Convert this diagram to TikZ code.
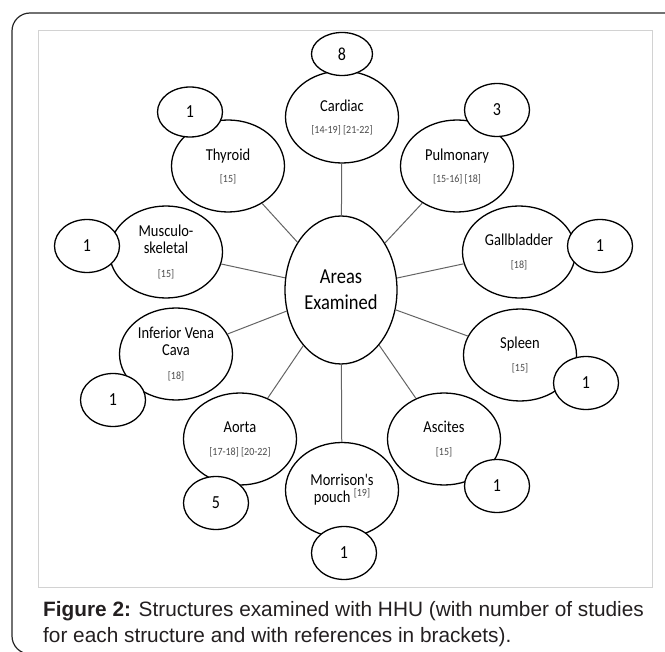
\documentclass[tikz,border=0pt]{standalone}
\usepackage{fontspec}
\setmainfont{Carlito}
\newfontfamily\capfont{Liberation Sans}
\usepackage{graphicx}
\usepackage{xcolor}
\usetikzlibrary{shapes.geometric}
\definecolor{refgray}{RGB}{75,75,75}
\definecolor{linkgray}{RGB}{100,100,100}
\definecolor{framegray}{RGB}{210,210,210}
\definecolor{captext}{RGB}{35,31,32}
\newcommand{\tall}[1]{\scalebox{1}[1.15]{#1}}
\newcommand{\refs}[1]{{\fontsize{10}{11}\selectfont\color{refgray}\scalebox{1}[1.1]{#1}}}

\begin{document}
\begin{tikzpicture}[x=1pt,y=-1pt,
  area/.style={ellipse,draw=black,line width=1.3pt,fill=white,minimum width=113pt,minimum height=92pt,inner sep=0pt,align=center,font=\fontsize{14.5}{18}\selectfont},
  count/.style={ellipse,draw=black,line width=1.3pt,fill=white,minimum width=65pt,minimum height=53pt,inner sep=0pt,font=\fontsize{16}{18}\selectfont},
  link/.style={linkgray,line width=1pt},
  captionline/.style={anchor=base west,inner sep=0pt,text=captext,font=\capfont\fontsize{20.8}{25}\selectfont}]
\useasboundingbox (0,0) rectangle (665,652);
\begin{scope}
\clip (0,0) rectangle (665,652);
\draw[black!85,line width=1.2pt,rounded corners=18pt] (12,13) rectangle (700,654);
\end{scope}
\draw[framegray,line width=0.8pt] (38,30) rectangle (652,587);

\node[area,minimum width=112pt,minimum height=148pt,font=\fontsize{18.5}{26}\selectfont] (areas) at (341,290) {\tall{Areas}\\\tall{Examined}};

\node[area] (cardiac) at (342,117) {\tall{Cardiac}\\[4pt]\refs{[14-19] [21-22]}};
\node[area] (thyroid) at (228,166) {\tall{Thyroid}\\[4pt]\refs{[15]}};
\node[area] (pulmonary) at (457,166) {\tall{Pulmonary}\\[4pt]\refs{[15-16] [18]}};
\node[area] (musculo) at (166,252) {\tall{Musculo-}\\[-1pt]\tall{skeletal}\\[6pt]\refs{[15]}};
\node[area] (gallbladder) at (519,252) {\tall{Gallbladder}\\[5pt]\refs{[18]}};
\node[area] (ivc) at (176,354) {\tall{Inferior Vena}\\[-1pt]\tall{Cava}\\[6pt]\refs{[18]}};
\node[area] (spleen) at (520,355) {\tall{Spleen}\\[5pt]\refs{[15]}};
\node[area] (aorta) at (240,439) {\tall{Aorta}\\[5pt]\refs{[17-18] [20-22]}};
\node[area] (ascites) at (444,439) {\tall{Ascites}\\[5pt]\refs{[15]}};
\node[area,minimum height=95pt] (morrison) at (342,490) {\tall{Morrison\textquotesingle s}\\[-1pt]\tall{pouch} \raisebox{6pt}{\refs{[19]}}};

\node[count,minimum width=61pt,minimum height=43pt] (ncardiac) at (342,54) {\tall{8}};
\node[count,minimum height=50pt] (nthyroid) at (190,112) {\tall{1}};
\node[count] (npulmonary) at (497,110) {\tall{3}};
\node[count] (nmusculo) at (87,246) {\tall{1}};
\node[count] (ngallbladder) at (600,246) {\tall{1}};
\node[count] (nivc) at (113,400) {\tall{1}};
\node[count] (nspleen) at (586,383) {\tall{1}};
\node[count] (naorta) at (216,503) {\tall{5}};
\node[count] (nascites) at (497,486) {\tall{1}};
\node[count] (nmorrison) at (344,553) {\tall{1}};

\foreach \sat in {cardiac,thyroid,pulmonary,musculo,gallbladder,ivc,spleen,aorta,ascites,morrison}
  \draw[link] (areas) -- (\sat);

\node[captionline] (caption1) at (43,617) {\textbf{Figure 2:} Structures examined with HHU (with number of studies};
\node[captionline] (caption2) at (43,642) {for each structure and with references in brackets).};
\end{tikzpicture}
\end{document}
